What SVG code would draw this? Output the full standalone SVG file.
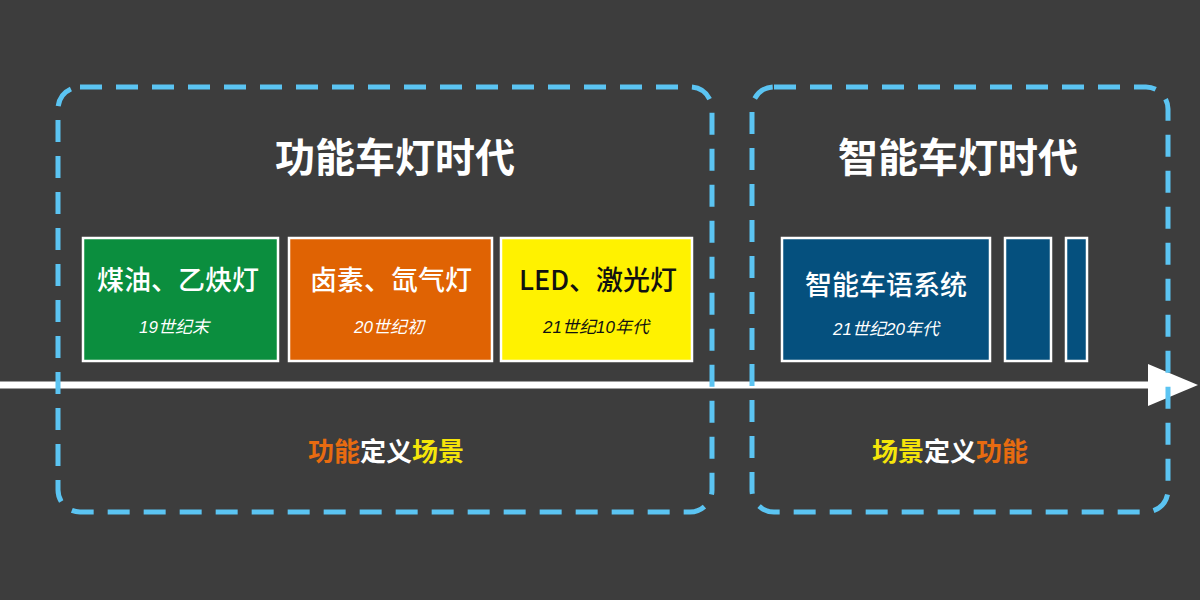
<svg xmlns="http://www.w3.org/2000/svg" width="1200" height="600" viewBox="0 0 1200 600">
<style>
.frame{fill:none;stroke:#5bc4f2;stroke-width:5;stroke-dasharray:22 14}
.box{stroke:#fff;stroke-width:2.5}
text{font-family:"Noto Sans CJK SC","Liberation Sans",sans-serif;text-anchor:middle}
.t{fill:#fff;font-size:40px;font-weight:bold}
.n{font-size:27px;font-weight:500}
.s{font-size:17px;font-style:italic;font-family:"Liberation Sans","Noto Sans CJK SC",sans-serif}
.f{font-size:26px;font-weight:bold}
</style>
<rect width="1200" height="600" fill="#3d3d3d"/>
<g id="connectors">
<line x1="0" y1="385" x2="1152" y2="385" stroke="#fff" stroke-width="7"/>
<polygon points="1148,364 1198,385 1148,406" fill="#fff"/>
</g>
<g id="era1">
<rect class="frame" x="58" y="87" width="654" height="425" rx="22"/>
<text class="t" x="395" y="172">功能车灯时代</text>
<text class="f" x="386" y="461"><tspan fill="#e86b10">功能</tspan><tspan fill="#fff">定义</tspan><tspan fill="#f5e50a">场景</tspan></text>
</g>
<g id="era2">
<rect class="frame" x="752" y="87" width="416" height="425" rx="22"/>
<text class="t" x="958" y="172">智能车灯时代</text>
<text class="f" x="950" y="461"><tspan fill="#f5e50a">场景</tspan><tspan fill="#fff">定义</tspan><tspan fill="#e86b10">功能</tspan></text>
</g>
<g id="n1"><rect class="box" x="83" y="238" width="195" height="123" fill="#0b8e3e"/>
<text class="n" x="178" y="290" fill="#fff">煤油、乙炔灯</text><text class="s" x="174" y="333" fill="#fff">19世纪末</text></g>
<g id="n2"><rect class="box" x="289" y="238" width="203" height="123" fill="#e06303"/>
<text class="n" x="391" y="290" fill="#fff">卤素、氙气灯</text><text class="s" x="389" y="333" fill="#fff">20世纪初</text></g>
<g id="n3"><rect class="box" x="501" y="238" width="191" height="123" fill="#fff200"/>
<text class="n" x="598" y="290" fill="#111">LED、激光灯</text><text class="s" x="596" y="333" fill="#111">21世纪10年代</text></g>
<g id="n4"><rect class="box" x="782" y="238" width="208" height="123" fill="#05507e"/>
<text class="n" x="886" y="295" fill="#fff">智能车语系统</text><text class="s" x="886" y="335" fill="#fff">21世纪20年代</text></g>
<g id="n5"><rect class="box" x="1005" y="238" width="46" height="123" fill="#05507e"/></g>
<g id="n6"><rect class="box" x="1066" y="238" width="21" height="123" fill="#05507e"/></g>
</svg>
